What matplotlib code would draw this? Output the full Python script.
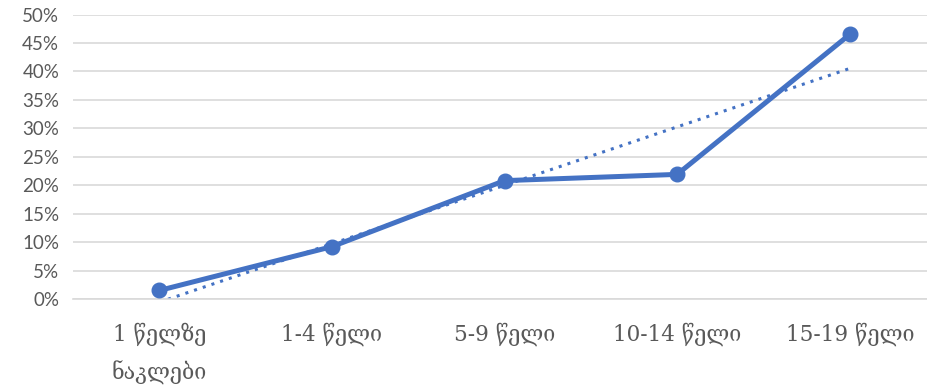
import numpy as np
import matplotlib.pyplot as plt
from matplotlib.ticker import PercentFormatter

# Data
categories = ["1 წელზე\nნაკლები", "1-4 წელი", "5-9 წელი", "10-14 წელი", "15-19 წელი"]
values = [1.5, 9.2, 20.8, 21.9, 46.5]

blue = "#4472C4"
grid_col = "#D9D9D9"
text_col = "#595959"

fig = plt.figure(figsize=(9.28, 3.89), dpi=100)
ax = fig.add_axes([0.0787, 0.2314, 0.9300, 0.7313])

x = np.arange(len(categories))
ax.plot(x, values, color=blue, linewidth=3.6, marker="o", markersize=10.5,
        solid_capstyle="round", zorder=3)

# linear trendline
k, b = np.polyfit(x, values, 1)
ax.plot(x, k * x + b, color=blue, linewidth=2.2, linestyle=(0, (1, 2.0)), zorder=2)

ax.set_xlim(-0.5, len(categories) - 0.5)
ax.set_ylim(0, 50)
ax.set_yticks(np.arange(0, 51, 5))
ax.yaxis.set_major_formatter(PercentFormatter(decimals=0))
ax.grid(axis="y", color=grid_col, linewidth=1.2)
ax.set_axisbelow(True)

for s in ax.spines.values():
    s.set_visible(False)
ax.spines["bottom"].set_visible(True)
ax.spines["bottom"].set_color(grid_col)
ax.spines["bottom"].set_linewidth(1.2)

ax.tick_params(axis="both", length=0)
ax.tick_params(axis="y", labelsize=13.5, labelcolor=text_col, pad=10)
for lbl in ax.get_yticklabels():
    lbl.set_family(["Lato", "DejaVu Sans"])
ax.set_xticks(x)
ax.set_xticklabels(categories, family=["DejaVu Serif", "DejaVu Sans"], fontsize=15.5,
                   color=text_col, linespacing=1.75, va="top")
ax.tick_params(axis="x", pad=17)

fig.savefig("out.png", dpi=100)
